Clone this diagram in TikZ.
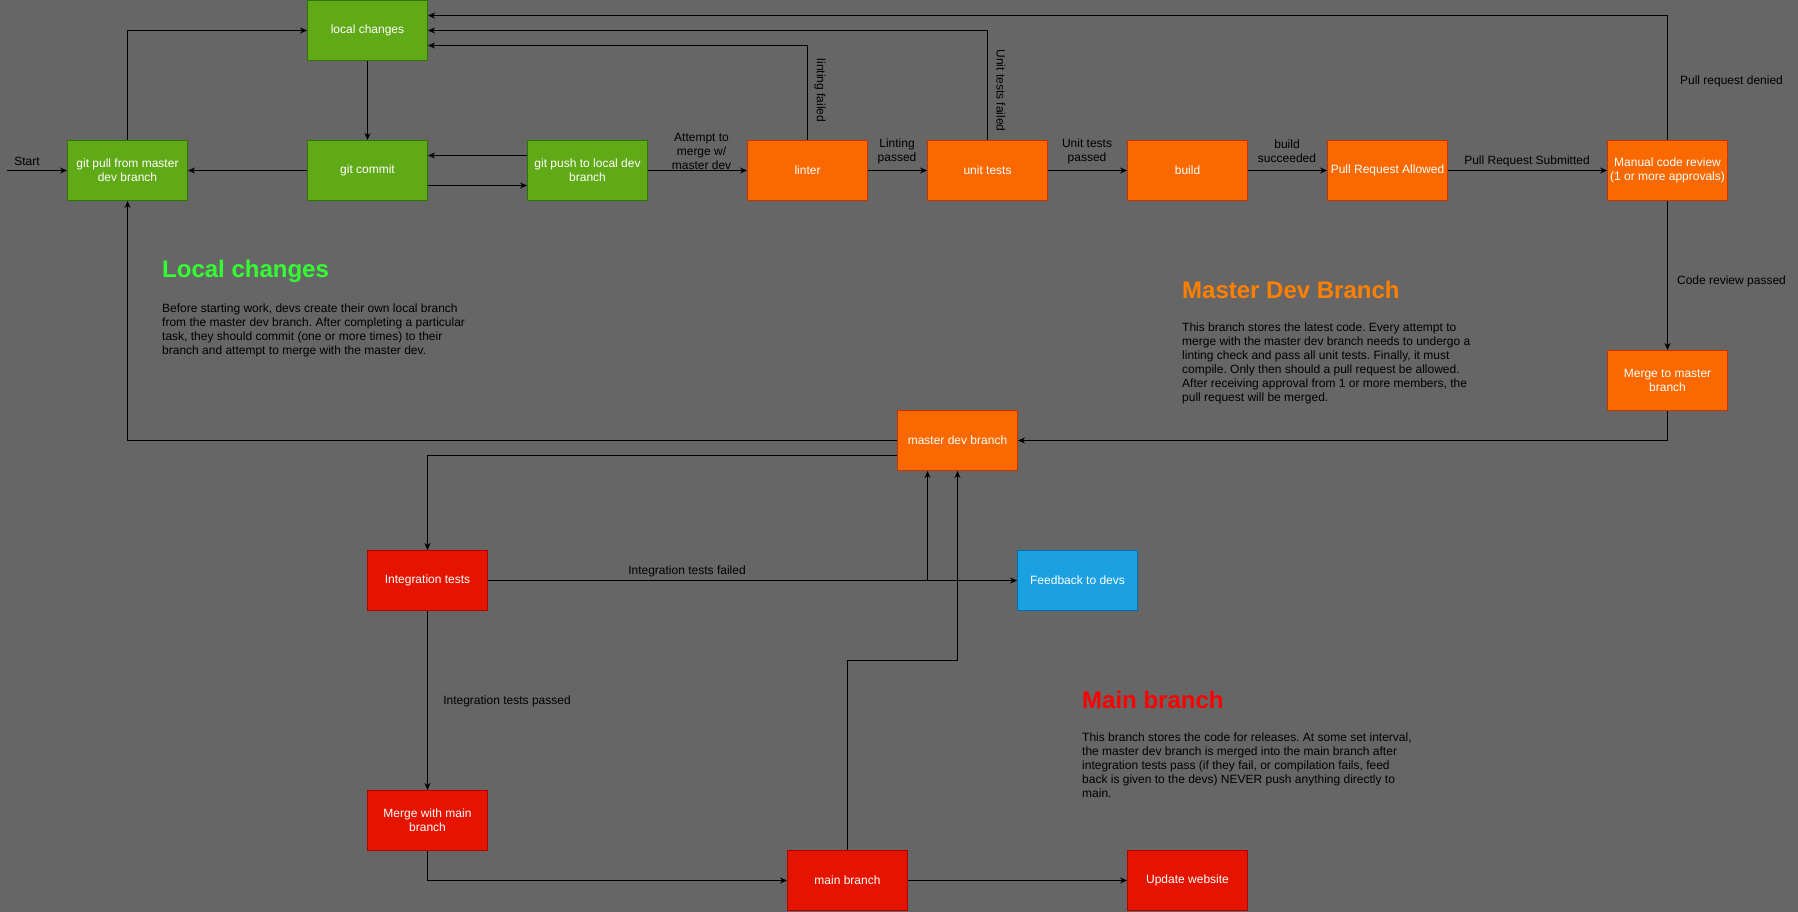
\documentclass[tikz,border=0pt]{standalone}
\usepackage{fontspec}
\setmainfont{Liberation Sans}
\frenchspacing
\usetikzlibrary{arrows.meta}
\definecolor{bggrey}{HTML}{666666}
\definecolor{devgreen}{HTML}{60A917}
\definecolor{devgreenline}{HTML}{2D7600}
\definecolor{devorange}{HTML}{FA6800}
\definecolor{devorangeline}{HTML}{C73500}
\definecolor{devred}{HTML}{E51400}
\definecolor{devredline}{HTML}{B20000}
\definecolor{devblue}{HTML}{1BA1E2}
\definecolor{devblueline}{HTML}{006EAF}
\definecolor{headgreen}{HTML}{33FF33}
\definecolor{headorange}{HTML}{FF8000}
\definecolor{headred}{HTML}{FF0000}
\begin{document}
\begin{tikzpicture}[x=1pt,y=-1pt,
		box/.style={line width=1pt,minimum width=120pt,minimum height=60pt,inner sep=1pt,align=center,text=white,font=\fontsize{12}{14}\selectfont},
		greenbox/.style={box,fill=devgreen,draw=devgreenline},
		orangebox/.style={box,fill=devorange,draw=devorangeline},
		redbox/.style={box,fill=devred,draw=devredline},
		bluebox/.style={box,fill=devblue,draw=devblueline},
		flow/.style={-{Stealth[length=7pt,width=6pt]},line width=1pt},
		lbl/.style={align=center,inner sep=0pt,font=\fontsize{12}{14}\selectfont},
		heading/.style={anchor=base west,inner sep=0pt,font=\fontsize{24}{28}\selectfont\bfseries},
		blurb/.style={anchor=north west,align=left,inner sep=0pt,font=\fontsize{12}{14}\selectfont}]
		\fill[bggrey] (0,0) rectangle (1798,911);
		\begin{scope}
		\node[greenbox] (pull) at (127.5,170) {git pull from master\\dev branch};
		\node[greenbox] (local) at (367.5,30) {local changes};
		\node[greenbox] (commit) at (367.5,170) {git commit};
		\node[greenbox] (push) at (587.5,170) {git push to local dev\\branch};
		\coordinate (start) at (7,170);
		\node[lbl] (startlbl) at (27,161) {Start};
		\draw[flow] (start) -- (pull.west);
		\draw[flow] (pull.north) |- (local.west);
		\draw[flow] (local.south) -- (commit.north);
		\draw[flow] (commit.west) -- (pull.east);
		\draw[flow] ([yshift=15pt]push.west) -- ([yshift=15pt]commit.east);
		\draw[flow] ([yshift=-15pt]commit.east) -- ([yshift=-15pt]push.west);
		\node[heading,text=headgreen] (localhead) at (162,277.5) {Local changes};
		\node[blurb] (localtext) at (162,303) {Before starting work, devs create their own local branch\\from the master dev branch. After completing a particular\\task, they should commit (one or more times) to their\\branch and attempt to merge with the master dev.};
		\end{scope}
		\begin{scope}
		\foreach \name/\x/\txt in {linter/807.5/linter, unit/987.5/unit tests, build/1187.5/build, allowed/1387.5/Pull Request Allowed, review/1667.5/{Manual code review\\(1 or more approvals)}}
		{
			\node[orangebox] (\name) at (\x,170) {\txt};
		}
		\node[orangebox] (mergemaster) at (1667.5,380) {Merge to master\\branch};
		\node[orangebox] (masterdev) at (957.5,440) {master dev branch};
		\draw[flow] (push.east) -- (linter.west);
		\draw[flow] (linter.east) -- (unit.west);
		\draw[flow] (unit.east) -- (build.west);
		\draw[flow] (build.east) -- (allowed.west);
		\draw[flow] (allowed.east) -- (review.west);
		\draw[flow] (linter.north) |- ([yshift=-15pt]local.east);
		\draw[flow] (unit.north) |- (local.east);
		\draw[flow] (review.north) |- ([yshift=15pt]local.east);
		\draw[flow] (review.south) -- (mergemaster.north);
		\draw[flow] (mergemaster.south) |- (masterdev.east);
		\draw[flow] (masterdev.west) -| (pull.south);
		\node[lbl] (attemptlbl) at (701.5,151) {Attempt to\\merge w/\\master dev};
		\node[lbl] (lintpasslbl) at (897,151) {Linting\\passed};
		\node[lbl] (unitpasslbl) at (1087,151) {Unit tests\\passed};
		\node[lbl] (buildlbl) at (1287,151) {build\\succeeded};
		\node[lbl] (submitlbl) at (1527,161) {Pull Request Submitted};
		\node[lbl,rotate=-90] (lintfaillbl) at (820,90) {linting failed};
		\node[lbl,rotate=-90] (unitfaillbl) at (1001,90) {Unit tests failed};
		\node[lbl] (deniedlbl) at (1731.5,81) {Pull request denied};
		\node[lbl] (reviewlbl) at (1731.5,281) {Code review passed};
		\node[heading,text=headorange] (masterhead) at (1182,298) {Master Dev Branch};
		\node[blurb] (mastertext) at (1182,322) {This branch stores the latest code. Every attempt to\\merge with the master dev branch needs to undergo a\\linting check and pass all unit tests. Finally, it must\\compile. Only then should a pull request be allowed.\\After receiving approval from 1 or more members, the\\pull request will be merged.};
		\end{scope}
		\begin{scope}
		\node[redbox] (integ) at (427.5,580) {Integration tests};
		\node[bluebox] (feedback) at (1077.5,580) {Feedback to devs};
		\node[redbox] (mergemain) at (427.5,820) {Merge with main\\branch};
		\node[redbox] (mainbr) at (847.5,880) {main branch};
		\node[redbox] (website) at (1187.5,880) {Update website};
		\draw[flow] ([yshift=-15pt]masterdev.west) -| (integ.north);
		\draw[flow] (integ.east) -- (feedback.west);
		\draw[flow] (integ.east) -| ([xshift=-30pt]masterdev.south);
		\draw[flow] (integ.south) -- (mergemain.north);
		\draw[flow] (mergemain.south) |- (mainbr.west);
		\draw[flow] (mainbr.north) -- ++(0,-190) -| (masterdev.south);
		\draw[flow] (mainbr.east) -- (website.west);
		\node[lbl] (integfaillbl) at (687,571) {Integration tests failed};
		\node[lbl] (integpasslbl) at (507,701) {Integration tests passed};
		\node[heading,text=headred] (mainhead) at (1082,708) {Main branch};
		\node[blurb] (maintext) at (1082,732) {This branch stores the code for releases. At some set interval,\\the master dev branch is merged into the main branch after\\integration tests pass (if they fail, or compilation fails, feed\\back is given to the devs) NEVER push anything directly to\\main.};
		\end{scope}
\end{tikzpicture}
\end{document}
